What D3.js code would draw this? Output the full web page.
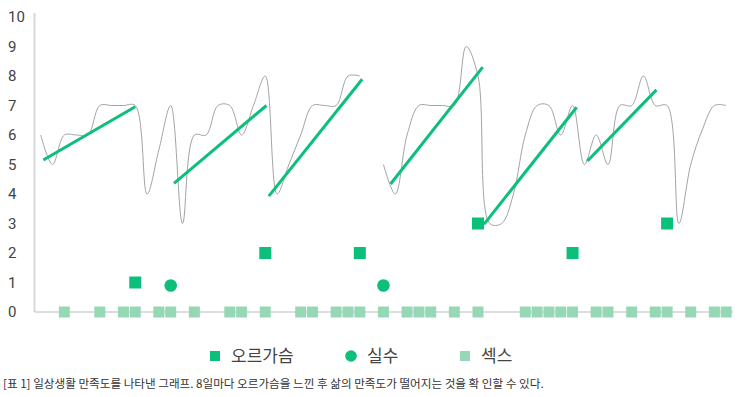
<!DOCTYPE html>
<html>
<head>
<meta charset="utf-8">
<script src="https://cdn.jsdelivr.net/npm/d3@7"></script>
<style>
  body { margin: 0; background: #fff; }
  svg text { font-family: "Noto Sans CJK KR", "Noto Sans", sans-serif; }
</style>
</head>
<body>
<svg id="chart"></svg>
<script>
// Chart size
const width = 743;
const height = 397;

// Daily satisfaction (two runs, day numbers and values)
const days1 = d3.range(1, 29);
const satisfaction1 = [6, 5, 6, 6, 6, 7, 7, 7, 7, 4, 5.5, 7, 3, 6, 6, 7, 7, 6, 7, 8, 4, 5, 6, 7, 7, 7, 8, 8];
const days2 = d3.range(30, 60);
const satisfaction2 = [5, 4, 6, 7, 7, 7, 7, 9, 8, 3, 3, 4, 6, 7, 7, 6, 7, 5, 6, 5, 7, 7, 8, 7, 7, 3, 5, 6.2, 7, 7];

// Orgasm days (dark squares) and level
const orgasmDays = [9, 20, 28, 38, 46, 54];
const orgasmValues = [1, 2, 2, 3, 2, 3];

// Mistakes (circles)
const mistakeDays = [12, 30];
const mistakeValues = [0.9, 0.9];

// Sex days (light squares on the baseline)
const sexDays = [3, 6, 8, 9, 11, 12, 14, 17, 18, 20, 23, 24, 26, 27, 28, 30, 32, 33, 34, 36, 38,
                 42, 43, 44, 45, 46, 48, 49, 51, 53, 54, 56, 58, 59];

// Rising trend segments: [day, value] at start and end
const trendStart = [[1.22, 5.15], [12.28, 4.36], [20.3, 3.93], [30.6, 4.34], [38.5, 2.97], [47.25, 5.12]];
const trendEnd = [[9, 6.96], [20.1, 7.0], [28.2, 7.89], [38.4, 8.3], [46.35, 6.94], [53.1, 7.53]];

// Ticks and legend
const yTicks = d3.range(0, 11);
const legendLabels = ["오르가슴", "실수", "섹스"];
const caption = "[표 1] 일상생활 만족도를 나타낸 그래프. 8일마다 오르가슴을 느낀 후 삶의 만족도가 떨어지는 것을 확 인할 수 있다.";

const green = "#0cbf7b";
const lightGreen = "#96d8b6";

const svg = d3.select("#chart")
    .attr("width", width)
    .attr("height", height);

// Scales
const x = d3.scaleLinear().domain([1, 59]).range([40.7, 726.2]);
const y = d3.scaleLinear().domain([0, 10]).range([312, 17]);

// Y axis line and labels
svg.append("line")
    .attr("x1", 34.5).attr("x2", 34.5)
    .attr("y1", 13).attr("y2", y(0))
    .attr("stroke", "#d8d8d8")
    .attr("stroke-width", 2);

svg.selectAll(".ylab")
    .data(yTicks)
    .join("text")
    .attr("class", "ylab")
    .attr("x", 8)
    .attr("y", d => y(d))
    .attr("dy", "0.36em")
    .attr("font-size", 15)
    .attr("fill", "#444")
    .style("font-family", "Roboto, sans-serif")
    .text(d => d);

// Baseline
svg.append("line")
    .attr("x1", 35).attr("x2", 733)
    .attr("y1", y(0)).attr("y2", y(0))
    .attr("stroke", "#bbb")
    .attr("stroke-width", 1);

// Gray satisfaction curve
const line = d3.line()
    .x(d => x(d[0]))
    .y(d => y(d[1]))
    .curve(d3.curveCatmullRom.alpha(0.5));

[[days1, satisfaction1], [days2, satisfaction2]].forEach(([ds, vs]) => {
    svg.append("path")
        .datum(ds.map((d, i) => [d, vs[i]]))
        .attr("d", line)
        .attr("fill", "none")
        .attr("stroke", "#a3a3a3")
        .attr("stroke-width", 1);
});

// Trend lines
svg.selectAll(".trend")
    .data(trendStart.map((s, i) => [s, trendEnd[i]]))
    .join("line")
    .attr("class", "trend")
    .attr("x1", d => x(d[0][0]))
    .attr("y1", d => y(d[0][1]))
    .attr("x2", d => x(d[1][0]))
    .attr("y2", d => y(d[1][1]))
    .attr("stroke", green)
    .attr("stroke-width", 3);

// Sex squares
const sq = 11;
svg.selectAll(".sex")
    .data(sexDays)
    .join("rect")
    .attr("class", "sex")
    .attr("x", d => x(d) - sq / 2)
    .attr("y", y(0) - sq / 2)
    .attr("width", sq)
    .attr("height", sq)
    .attr("fill", lightGreen);

// Orgasm squares
const osq = 12;
svg.selectAll(".orgasm")
    .data(orgasmDays.map((d, i) => [d, orgasmValues[i]]))
    .join("rect")
    .attr("class", "orgasm")
    .attr("x", d => x(d[0]) - osq / 2)
    .attr("y", d => y(d[1]) - osq / 2)
    .attr("width", osq)
    .attr("height", osq)
    .attr("fill", green);

// Mistake circles
svg.selectAll(".mistake")
    .data(mistakeDays.map((d, i) => [d, mistakeValues[i]]))
    .join("circle")
    .attr("class", "mistake")
    .attr("cx", d => x(d[0]))
    .attr("cy", d => y(d[1]))
    .attr("r", 6.3)
    .attr("fill", green);

// Legend
const legendX = [215, 351, 465];
const legend = svg.selectAll(".legend")
    .data(legendLabels)
    .join("g")
    .attr("class", "legend")
    .attr("transform", (d, i) => `translate(${legendX[i]},356)`);

legend.each(function(d, i) {
    const g = d3.select(this);
    if (i === 1) {
        g.append("circle").attr("r", 5.8).attr("fill", green);
    } else {
        g.append("rect")
            .attr("x", -5).attr("y", -5)
            .attr("width", 10).attr("height", 10)
            .attr("fill", i === 0 ? green : lightGreen);
    }
    g.append("text")
        .attr("x", 16)
        .attr("dy", "0.36em")
        .attr("font-size", 17)
        .attr("fill", "#444")
        .text(d);
});

// Caption
svg.append("text")
    .attr("x", 3)
    .attr("y", 388)
    .attr("font-size", 11.6)
    .attr("fill", "#333")
    .text(caption);
</script>
</body>
</html>
